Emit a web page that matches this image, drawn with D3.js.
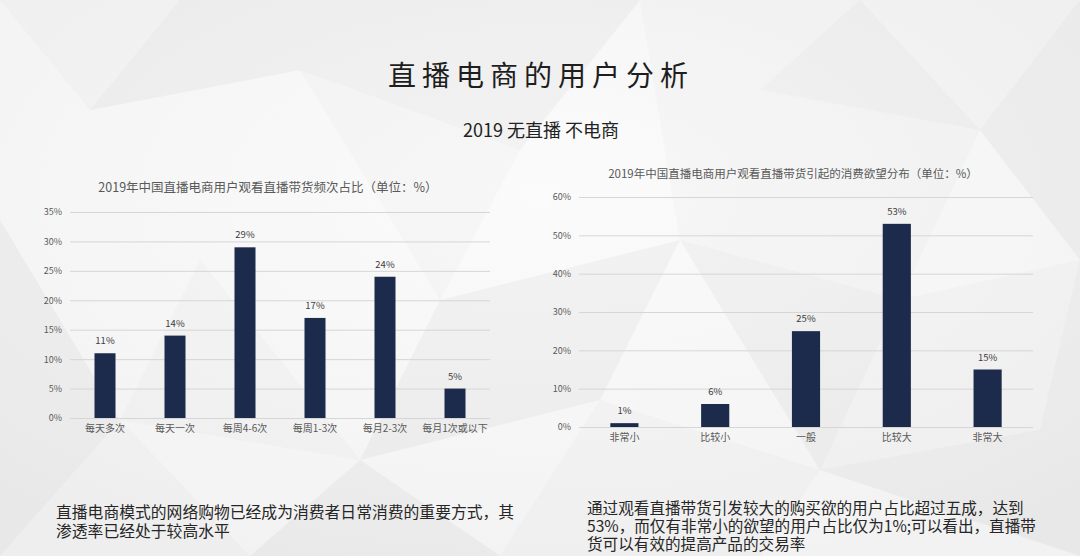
<!DOCTYPE html>
<html>
<head>
<meta charset="utf-8">
<script src="https://cdn.jsdelivr.net/npm/d3@7"></script>
<style>
  html, body { margin: 0; padding: 0; }
  body { width: 1080px; height: 556px; overflow: hidden; font-family: "Noto Sans CJK SC", "Noto Sans", sans-serif; }
</style>
</head>
<body>
<svg id="page" width="1080" height="556"></svg>
<script>
// left chart: watching frequency
const freqCats = ['每天多次', '每天一次', '每周4-6次', '每周1-3次', '每月2-3次', '每月1次或以下'];
const freqVals = [11, 14, 29, 17, 24, 5];
const freqTicks = [0, 5, 10, 15, 20, 25, 30, 35];

// right chart: purchase desire
const desireCats = ['非常小', '比较小', '一般', '比较大', '非常大'];
const desireVals = [1, 6, 25, 53, 15];
const desireTicks = [0, 10, 20, 30, 40, 50, 60];

const pageTitle = '直播电商的用户分析';
const pageSub = '2019 无直播 不电商';
const leftNote = ['直播电商模式的网络购物已经成为消费者日常消费的重要方式，其', '渗透率已经处于较高水平'];
const rightNote = ['通过观看直播带货引发较大的购买欲的用户占比超过五成，达到', '53%，而仅有非常小的欲望的用户占比仅为1%;可以看出，直播带', '货可以有效的提高产品的交易率'];

// faint facets for the slide background (decoration only)
const facetPts = [[0,0],[180,0],[420,0],[640,0],[860,0],[1080,0],[90,110],[300,70],[520,150],[760,90],[980,130],
  [0,220],[200,260],[440,300],[680,240],[900,300],[1080,260],[120,420],[360,460],[600,400],[820,470],[1040,430],
  [0,556],[250,556],[500,556],[760,556],[1080,556]];

const svg = d3.select('#page');
const W = 1080, H = 556;
const barColor = '#1c2b4b';

// background
const defs = svg.append('defs');
const grad = defs.append('radialGradient').attr('id', 'bg').attr('cx', '50%').attr('cy', '35%').attr('r', '75%');
grad.append('stop').attr('offset', '0%').attr('stop-color', '#f9f9f9');
grad.append('stop').attr('offset', '100%').attr('stop-color', '#ebebeb');
svg.append('rect').attr('width', W).attr('height', H).attr('fill', 'url(#bg)');

const delaunay = d3.Delaunay.from(facetPts);
const tris = Array.from(delaunay.trianglePolygons());
svg.append('g').selectAll('path')
  .data(tris)
  .join('path')
  .attr('d', d => 'M' + d.slice(0, 3).join('L') + 'Z')
  .attr('fill', (d, i) => i % 3 === 0 ? '#ffffff' : (i % 3 === 1 ? '#dcdcdc' : '#f4f4f4'))
  .attr('fill-opacity', (d, i) => i % 3 === 1 ? 0.18 : 0.35)
  .attr('stroke', 'none');

svg.append('text')
  .attr('x', 541).attr('y', 86)
  .attr('text-anchor', 'middle')
  .attr('font-size', 28).attr('letter-spacing', 6)
  .attr('fill', '#1e1e1e')
  .text(pageTitle);

svg.append('text')
  .attr('x', 541).attr('y', 137)
  .attr('text-anchor', 'middle')
  .attr('font-size', 18)
  .attr('fill', '#222')
  .text(pageSub);

const drawChart = (cfg) => {
  const g = svg.append('g');
  const x = d3.scaleBand().domain(cfg.cats).range([cfg.x0, cfg.x1]).paddingInner(cfg.pad).paddingOuter(cfg.pad / 2);
  const y = d3.scaleLinear().domain([0, d3.max(cfg.ticks)]).range([cfg.y0, cfg.y1]);

  const yAxis = d3.axisLeft(y).tickValues(cfg.ticks).tickSize(-(cfg.x1 - cfg.x0)).tickFormat(d => d + '%').tickPadding(8);
  const ya = g.append('g').attr('transform', `translate(${cfg.x0},0)`).call(yAxis);
  ya.select('.domain').remove();
  ya.selectAll('line').attr('stroke', '#d6d6d6');
  ya.selectAll('text').attr('font-size', 9).attr('fill', '#595959').attr('font-family', 'Noto Sans CJK SC');

  const xAxis = d3.axisBottom(x).tickSize(0).tickPadding(7);
  const xa = g.append('g').attr('transform', `translate(0,${cfg.y0})`).call(xAxis);
  xa.select('.domain').remove();
  xa.selectAll('text').attr('font-size', 10).attr('fill', '#595959').attr('font-family', 'Noto Sans CJK SC');

  g.selectAll('rect.bar')
    .data(cfg.vals)
    .join('rect')
    .attr('class', 'bar')
    .attr('x', (d, i) => x(cfg.cats[i]))
    .attr('width', x.bandwidth())
    .attr('y', d => y(d))
    .attr('height', d => y(0) - y(d))
    .attr('fill', barColor);

  g.selectAll('text.val')
    .data(cfg.vals)
    .join('text')
    .attr('class', 'val')
    .attr('x', (d, i) => x(cfg.cats[i]) + x.bandwidth() / 2)
    .attr('y', d => y(d) - 9)
    .attr('text-anchor', 'middle')
    .attr('font-size', 9.5)
    .attr('fill', '#404040')
    .text(d => d + '%');

  g.append('text')
    .attr('x', cfg.tx).attr('y', cfg.ty)
    .attr('text-anchor', 'middle')
    .attr('font-size', cfg.tsize)
    .attr('fill', '#595959')
    .text(cfg.title);
};

drawChart({
  cats: freqCats, vals: freqVals, ticks: freqTicks,
  x0: 70, x1: 490, y0: 418, y1: 212, pad: 0.7,
  title: '2019年中国直播电商用户观看直播带货频次占比（单位：%）', tx: 268, ty: 192, tsize: 12.5
});

drawChart({
  cats: desireCats, vals: desireVals, ticks: desireTicks,
  x0: 579, x1: 1033, y0: 427, y1: 197, pad: 0.69,
  title: '2019年中国直播电商用户观看直播带货引起的消费欲望分布（单位：%）', tx: 793, ty: 178, tsize: 11.5
});

svg.append('g').selectAll('text')
  .data(leftNote)
  .join('text')
  .attr('x', 56)
  .attr('y', (d, i) => 518 + i * 19)
  .attr('font-size', 15.8)
  .attr('fill', '#262626')
  .text(d => d);

svg.append('g').selectAll('text')
  .data(rightNote)
  .join('text')
  .attr('x', 587)
  .attr('y', (d, i) => 514 + i * 18)
  .attr('font-size', 15.6)
  .attr('fill', '#262626')
  .text(d => d);
</script>
</body>
</html>
